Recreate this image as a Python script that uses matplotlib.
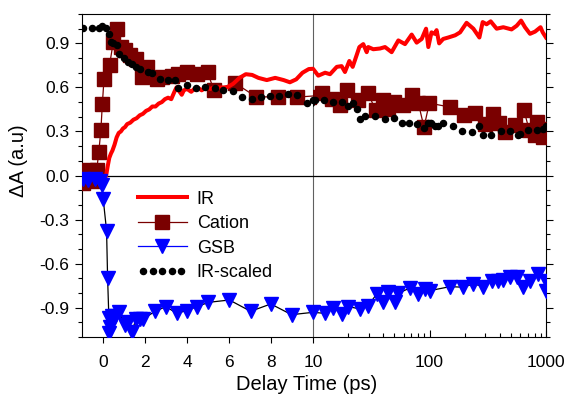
import numpy as np
import matplotlib
matplotlib.use('Agg')
import matplotlib.pyplot as plt
from matplotlib.lines import Line2D
from matplotlib.legend_handler import HandlerLine2D
from matplotlib.ticker import FixedLocator, MultipleLocator, NullFormatter

plt.rcParams['font.family'] = ['Liberation Sans', 'DejaVu Sans']
plt.rcParams['axes.unicode_minus'] = False

# IR transient (ps, dA)
ir_t = [0.05, 0.15, 0.22, 0.3, 0.38, 0.45, 0.55, 0.65, 0.75, 0.85, 0.95, 1.05, 1.15, 1.3,
        1.45, 1.6, 1.75, 1.9, 2.05, 2.2, 2.35, 2.5, 2.65, 2.8, 2.95, 3.1, 3.25, 3.4, 3.5,
        3.6, 3.75, 3.85, 4.0, 4.2, 4.35, 4.5, 4.7, 4.9, 5.1, 5.3, 5.6, 5.9, 6.2, 6.5, 6.8,
        7.1, 7.4, 7.8, 8.2, 8.6, 8.9, 9.2, 9.5, 9.8, 10.0,
        11.1, 12.7, 14.0, 16.0, 17.6, 18.8, 20.5, 21.9, 23.7, 25.0, 27.0, 28.9, 29.8, 32.9,
        37.6, 41.5, 47.3, 54, 61.6, 70.3, 77.6, 85.7, 93.4, 97.7, 104, 111, 115, 121, 131,
        145, 166, 183, 208, 238, 268, 286, 309, 335, 377, 430, 506, 560, 611, 660, 729,
        805, 897, 937, 1000]
ir_a = [-0.04, 0.0, 0.06, 0.12, 0.15, 0.17, 0.21, 0.26, 0.29, 0.30, 0.32, 0.33, 0.35, 0.36,
        0.38, 0.39, 0.41, 0.42, 0.44, 0.45, 0.47, 0.47, 0.49, 0.50, 0.52, 0.53, 0.52, 0.57, 0.60,
        0.58, 0.55, 0.58, 0.59, 0.57, 0.59, 0.60, 0.58, 0.60, 0.59, 0.60, 0.60, 0.60, 0.625, 0.665, 0.69,
        0.685, 0.665, 0.65, 0.665, 0.65, 0.635, 0.655, 0.70, 0.725, 0.727,
        0.68, 0.70, 0.69, 0.74, 0.745, 0.705, 0.78, 0.74, 0.82, 0.875, 0.895, 0.84, 0.875, 0.86,
        0.865, 0.875, 0.84, 0.92, 0.895, 0.96, 0.905, 0.93, 1.0, 0.875, 0.975, 0.965, 0.99, 0.90, 0.93,
        0.94, 0.955, 0.975, 1.04, 1.0, 0.94, 1.045, 1.03, 1.05, 1.0, 1.01, 0.995, 1.02, 1.055, 1.01, 0.965,
        0.98, 1.01, 0.975, 0.94]

# cation band
cat_t = [-0.95, -0.65, -0.45, -0.3, -0.2, -0.1, -0.03, 0.05, 0.31, 0.49, 0.68, 0.86, 1.05,
         1.29, 1.57, 1.84, 2.11, 2.55, 2.79, 3.27, 3.55, 3.98, 4.46, 4.98, 5.27, 6.29, 7.28,
         8.31, 9.26,
         11.9, 14.5, 17.1, 19.5, 24.5, 29.5, 34.7, 40.1, 44.3, 49.6, 59.6, 70.3, 80.2, 89.7,
         99.6, 150, 199, 246, 299, 348, 397, 445, 542, 647, 719, 805, 842, 937, 1000]
cat_a = [-0.05, 0.04, -0.04, 0.035, 0.16, 0.31, 0.49, 0.66, 0.75, 0.91, 1.0, 0.875, 0.852,
         0.818, 0.795, 0.67, 0.738, 0.66, 0.67, 0.675, 0.69, 0.704, 0.69, 0.704, 0.584, 0.629, 0.537,
         0.534, 0.534,
         0.561, 0.523, 0.477, 0.579, 0.516, 0.561, 0.443, 0.516, 0.455, 0.50, 0.477, 0.545, 0.493, 0.329,
         0.493, 0.466, 0.409, 0.425, 0.352, 0.42, 0.357, 0.295, 0.341, 0.443, 0.307, 0.273, 0.364, 0.261, 0.318]

# ground state bleach
gsb_t = [-0.95, -0.7, -0.38, -0.14, -0.06, 0.01, 0.17, 0.22, 0.28, 0.30, 0.33, 0.41, 0.57,
         0.78, 1.05, 1.2, 1.37, 1.57, 1.75, 1.92, 2.48, 3.0, 3.51, 3.98, 4.49, 5.02, 6.02,
         7.03, 7.99, 8.98, 10.0,
         12.7, 14.9, 17.6, 20.1, 25.3, 29.8, 35.2, 40.1, 44.3, 50.6, 54.0, 68.0, 80.2, 91.5,
         101, 150, 195, 238, 290, 342, 390, 430, 491, 560, 639, 729, 859, 990, 1000]
gsb_a = [-0.023, -0.034, -0.023, -0.04, -0.068, -0.16, -0.375, -0.70, -0.97, -1.07, -1.03, -0.954, -0.954,
         -0.93, -1.02, -1.0, -1.068, -0.977, -0.98, -0.977, -0.925, -0.893, -0.939, -0.92, -0.893, -0.864, -0.848,
         -0.925, -0.875, -0.948, -0.932,
         -0.939, -0.902, -0.943, -0.893, -0.909, -0.886, -0.807, -0.864, -0.795, -0.864, -0.802, -0.766, -0.807, -0.773,
         -0.784, -0.757, -0.761, -0.738, -0.757, -0.716, -0.716, -0.711, -0.693, -0.689, -0.761, -0.716, -0.67, -0.716, -0.784]

# scaled IR trace
irs_t = [-0.97, -0.54, -0.17, -0.06, 0.14, 0.30, 0.37, 0.46, 0.65, 0.78, 1.0, 1.2, 1.37, 1.57,
         1.76, 2.16, 2.32, 2.71, 3.11, 3.43, 3.59, 4.01, 4.43, 4.86, 5.33, 5.73, 6.17, 6.62,
         7.08, 7.52, 7.95, 8.40, 8.83, 9.25, 9.70, 10.0,
         10.4, 12.4, 14.9, 17.6, 20.1, 21.9, 24.0, 25.3, 27.9, 34.1, 41.5, 49.6, 57.7, 67.1,
         77.6, 89.7, 97.7, 104, 111, 119, 131, 158, 189, 230, 268, 286, 337, 408, 491, 578,
         598, 697, 832, 948, 1000]
irs_a = [1.007, 1.007, 1.007, 1.016, 1.007, 0.966, 0.91, 0.90, 0.886, 0.83, 0.80, 0.77, 0.757, 0.738,
         0.727, 0.704, 0.697, 0.659, 0.648, 0.652, 0.598, 0.614, 0.598, 0.602, 0.598, 0.584, 0.575, 0.534,
         0.523, 0.534, 0.539, 0.541, 0.557, 0.545, 0.495, 0.516,
         0.511, 0.516, 0.504, 0.50, 0.475, 0.493, 0.455, 0.386, 0.402, 0.402, 0.384, 0.393, 0.361, 0.357,
         0.352, 0.323, 0.357, 0.357, 0.334, 0.339, 0.357, 0.334, 0.30, 0.295, 0.334, 0.277, 0.275, 0.30, 0.30, 0.277,
         0.28, 0.307, 0.307, 0.318, 0.334]

RED = '#ff0000'
MAROON = '#7a0000'
BLUE = '#0000ff'
SQ, TRI, DOT = 9.5, 9.5, 4.4

fig = plt.figure(figsize=(5.69, 3.99), dpi=100)
ax_lin = fig.add_axes([0.1441, 0.1554, 0.4060, 0.8095])
ax_log = fig.add_axes([0.5501, 0.1554, 0.4095, 0.8095])
ax_log.patch.set_visible(False)


def draw(ax, keep):
    t, a = np.array(cat_t), np.array(cat_a)
    m = keep(t)
    ax.plot(t[m], a[m], color=MAROON, lw=0.9, marker='s', ms=SQ, zorder=3)
    t, a = np.array(ir_t), np.array(ir_a)
    m = keep(t)
    ax.plot(t[m], a[m], color=RED, lw=2.9, zorder=4)
    t, a = np.array(irs_t), np.array(irs_a)
    m = keep(t)
    ax.plot(t[m], a[m], ls='none', color='black', marker='o', ms=DOT, zorder=5)
    t, a = np.array(gsb_t), np.array(gsb_a)
    m = keep(t)
    ax.plot(t[m], a[m], color='black', lw=0.9, marker='v', ms=TRI,
            mfc=BLUE, mec=BLUE, zorder=6)
    ax.axhline(0, color='black', lw=0.9, zorder=2)
    ax.set_ylim(-1.1, 1.1)
    ax.yaxis.set_major_locator(FixedLocator([-0.9, -0.6, -0.3, 0.0, 0.3, 0.6, 0.9]))
    ax.yaxis.set_minor_locator(MultipleLocator(0.1))


draw(ax_lin, lambda t: t <= 13)
draw(ax_log, lambda t: t >= 9)

# linear part
ax_lin.set_xlim(-1, 10)
ax_lin.set_xticks([0, 2, 4, 6, 8, 10])
ax_lin.set_yticklabels(['-0.9', '-0.6', '-0.3', '0.0', '0.3', '0.6', '0.9'])
ax_lin.tick_params(axis='x', direction='out', length=4, width=0.8, pad=9, labelsize=12.5)
ax_lin.tick_params(axis='y', which='major', direction='out', length=5, width=0.8, pad=4,
                   labelsize=12.5, left=True, right=False)
ax_lin.tick_params(axis='y', which='minor', direction='out', length=3, width=0.8,
                   left=True, right=False)
ax_lin.spines['right'].set_color('#606060')
ax_lin.spines['right'].set_zorder(7)

# log part
ax_log.set_xscale('log')
ax_log.set_xlim(10, 1000)
ax_log.set_xticks([100, 1000])
ax_log.set_xticklabels(['100', '1000'])
ax_log.set_xticks([20, 30, 40, 50, 60, 70, 80, 90, 200, 300, 400, 500, 600, 700, 800, 900],
                  minor=True)
ax_log.xaxis.set_minor_formatter(NullFormatter())
ax_log.tick_params(axis='x', which='major', direction='in', length=5, width=0.8, pad=13,
                   labelsize=12.5)
ax_log.tick_params(axis='x', which='minor', direction='in', length=3, width=0.8)
ax_log.tick_params(axis='y', which='both', direction='out', left=False, right=True,
                   labelleft=False, width=0.8)
ax_log.tick_params(axis='y', which='major', length=5)
ax_log.tick_params(axis='y', which='minor', length=3)
ax_log.spines['left'].set_visible(False)

fig.text(307 / 569, 1 - 385 / 399, 'Delay Time (ps)', ha='center', va='center', fontsize=14.5)
fig.text(19 / 569, 1 - 161 / 399, 'ΔA (a.u)', ha='center', va='center', rotation=90,
         fontsize=14.5)

h_ir = Line2D([], [], color=RED, lw=2.9)
h_cat = Line2D([], [], color=MAROON, lw=0.9, marker='s', ms=SQ)
h_gsb = Line2D([], [], color=BLUE, lw=0.9, marker='v', ms=TRI)
h_irs = Line2D([], [], ls='none', color='black', marker='o', ms=DOT)
ax_lin.legend([h_ir, h_cat, h_gsb, h_irs], ['IR', 'Cation', 'GSB', 'IR-scaled'],
              loc='center left', bbox_to_anchor=(138 / 569, 1 - 236 / 399),
              bbox_transform=fig.transFigure, frameon=False, fontsize=13,
              handlelength=2.7, handletextpad=0.55, labelspacing=0.42,
              borderpad=0, borderaxespad=0,
              handler_map={h_irs: HandlerLine2D(numpoints=5)})

fig.savefig('out.png', dpi=100)
